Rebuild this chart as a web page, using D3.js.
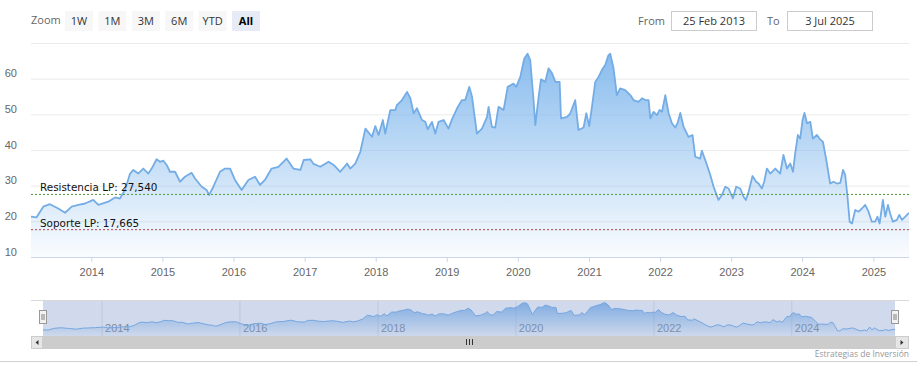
<!DOCTYPE html>
<html>
<head>
<meta charset="utf-8">
<script src="https://cdn.jsdelivr.net/npm/d3@7"></script>
<style>
body { margin: 0; background: #fff; }
svg { display: block; font-family: "Open Sans", "DejaVu Sans", sans-serif; }
</style>
</head>
<body>
<script>
// price series
var dates = [
    '2013-02-25', '2013-03-25', '2013-04-29', '2013-06-02', '2013-07-15', '2013-08-19', '2013-09-22', '2013-10-26', '2013-11-30',
    '2014-01-11', '2014-02-06', '2014-03-29', '2014-05-03', '2014-05-28', '2014-06-23', '2014-07-19', '2014-08-05', '2014-08-30',
    '2014-09-25', '2014-10-21', '2014-11-07', '2014-12-02', '2014-12-20',
    '2015-01-06', '2015-01-23', '2015-02-09', '2015-03-07', '2015-04-02', '2015-04-27', '2015-05-31', '2015-06-18', '2015-07-22',
    '2015-08-16', '2015-08-29', '2015-09-20', '2015-10-24', '2015-11-19', '2015-12-15',
    '2016-01-09', '2016-02-12', '2016-03-18', '2016-04-21', '2016-05-17', '2016-06-11', '2016-07-15', '2016-08-19', '2016-09-30',
    '2016-11-04', '2016-12-10', '2016-12-27',
    '2017-01-30', '2017-02-16', '2017-03-22', '2017-05-04', '2017-05-30', '2017-07-03', '2017-08-07', '2017-08-23', '2017-09-18',
    '2017-10-14', '2017-11-09', '2017-12-13', '2017-12-30',
    '2018-01-16', '2018-02-07', '2018-02-19', '2018-03-17', '2018-04-12', '2018-04-20', '2018-05-16', '2018-06-11', '2018-06-28',
    '2018-07-15', '2018-08-01', '2018-08-27', '2018-09-13', '2018-09-25', '2018-10-17', '2018-11-03', '2018-11-20', '2018-12-16',
    '2019-01-10', '2019-01-28', '2019-02-23', '2019-03-20', '2019-04-06', '2019-04-27', '2019-05-11', '2019-06-05', '2019-07-01',
    '2019-07-27', '2019-08-04', '2019-08-21', '2019-09-07', '2019-09-24', '2019-10-20', '2019-11-10', '2019-12-10', '2019-12-24',
    '2020-01-14', '2020-02-03', '2020-02-20', '2020-03-05', '2020-03-22', '2020-03-31', '2020-04-17', '2020-04-29', '2020-05-21',
    '2020-06-07', '2020-06-25', '2020-07-12', '2020-08-03', '2020-08-10', '2020-09-10', '2020-09-27', '2020-10-22', '2020-11-08',
    '2020-12-04', '2020-12-18',
    '2021-01-02', '2021-01-16', '2021-02-02', '2021-02-19', '2021-03-08', '2021-03-25', '2021-04-11', '2021-04-20', '2021-05-07',
    '2021-05-24', '2021-06-10', '2021-07-06', '2021-08-01', '2021-08-18', '2021-09-12', '2021-09-30', '2021-10-17', '2021-11-03',
    '2021-11-12', '2021-11-29', '2021-12-16', '2021-12-29',
    '2022-01-11', '2022-01-28', '2022-02-14', '2022-03-03', '2022-03-20', '2022-04-01', '2022-04-15', '2022-05-02', '2022-05-27',
    '2022-06-17', '2022-07-01', '2022-07-26', '2022-08-04', '2022-08-30', '2022-09-16', '2022-10-03', '2022-10-28', '2022-11-15',
    '2022-12-02', '2022-12-19',
    '2023-01-10', '2023-01-27', '2023-02-17', '2023-03-06', '2023-03-18', '2023-04-01', '2023-04-21', '2023-05-10', '2023-05-22',
    '2023-06-08', '2023-06-20', '2023-07-04', '2023-07-21', '2023-08-16', '2023-09-10', '2023-09-27', '2023-10-15', '2023-11-01',
    '2023-11-15', '2023-11-26', '2023-12-10', '2023-12-22',
    '2024-01-03', '2024-01-13', '2024-01-26', '2024-02-12', '2024-02-25', '2024-03-17', '2024-03-30', '2024-04-17', '2024-05-04',
    '2024-05-24', '2024-06-10', '2024-06-28', '2024-07-15', '2024-07-29', '2024-08-09', '2024-08-21', '2024-09-01', '2024-09-13',
    '2024-09-30', '2024-10-17', '2024-11-03', '2024-11-20', '2024-12-07', '2024-12-24',
    '2025-01-10', '2025-01-22', '2025-02-02', '2025-02-19', '2025-03-03', '2025-03-17', '2025-03-28', '2025-04-11', '2025-05-02',
    '2025-05-14', '2025-05-28', '2025-06-14', '2025-07-03'
];
var prices = [
    21.3, 21.1, 24.1, 24.8, 23.6, 22.4, 24.1, 24.6, 25.0,
    26.0, 24.6, 25.5, 26.7, 26.4, 28.8, 33.4, 34.4, 33.4,
    34.8, 33.4, 34.8, 37.4, 36.7,
    37.0, 35.8, 33.9, 33.9, 31.1, 32.5, 33.6, 32.0, 29.7,
    28.8, 27.4, 29.7, 33.9, 34.8, 34.8,
    31.6, 28.8, 31.6, 32.5, 30.2, 31.6, 34.8, 35.3, 37.6,
    34.8, 34.4, 37.2,
    37.4, 36.1, 35.3, 36.7, 35.8, 33.9, 36.2, 34.8, 36.2,
    39.5, 46.0, 43.7, 46.7,
    44.2, 48.4, 44.6, 51.2, 51.2, 52.6, 54.0, 56.3, 54.5,
    50.3, 51.7, 48.4, 47.9, 45.8, 47.9, 44.6, 47.9, 48.4,
    46.0, 48.6, 51.7, 54.0, 54.0, 57.7, 54.9, 44.6, 46.0,
    49.3, 52.1, 46.5, 46.3, 52.1, 51.2, 57.7, 58.6, 57.7,
    60.5, 65.6, 67.0, 65.2, 54.0, 47.0, 54.9, 59.8, 59.1,
    62.9, 61.5, 59.1, 59.1, 48.9, 49.3, 50.3, 54.0, 45.6,
    46.3, 50.3,
    46.7, 52.1, 59.1, 60.5, 62.4, 63.8, 66.6, 67.0, 62.9,
    55.4, 57.3, 56.8, 55.4, 54.0, 53.5, 54.5, 54.0, 54.0,
    48.9, 50.7, 49.8, 51.2,
    50.7, 55.4, 50.3, 47.5, 46.3, 47.6, 50.4, 46.5, 43.7,
    44.2, 38.1, 37.6, 39.8, 35.8, 33.0, 29.7, 26.0, 27.4,
    29.7, 29.2,
    26.4, 29.7, 29.2, 26.9, 26.0, 28.3, 32.7, 31.1, 30.6,
    29.2, 31.1, 34.8, 33.4, 34.8, 33.4, 38.6, 34.8, 36.2,
    33.9, 39.0, 44.2, 43.2,
    48.4, 50.4, 47.5, 47.9, 43.2, 44.2, 43.2, 42.3, 37.2,
    30.6, 31.1, 30.6, 30.8, 34.4, 33.0, 26.9, 19.9, 19.4,
    23.2, 22.7, 23.6, 24.6, 22.7, 19.9,
    19.9, 21.3, 19.4, 26.0, 21.3, 24.6, 22.2, 19.9, 20.4,
    21.8, 20.4, 21.3, 22.4
];
var rangeStart = '2013-02-25';
var rangeEnd = '2025-07-03';
var yTickValues = [10, 20, 30, 40, 50, 60, 70];
var zoomButtons = ['1W', '1M', '3M', '6M', 'YTD', 'All'];
var levelNames = ['Resistencia LP: 27,540', 'Soporte LP: 17,665'];
var levelValues = [27.54, 17.665];
var levelColors = ['#4f9a3c', '#c0404c'];
var fromText = '25 Feb 2013';
var toText = '3 Jul 2025';
var creditText = 'Estrategias de Inversión';

(function () {
    'use strict';
    var W = 917, H = 375;
    var left = 31, right = 909, top = 43, bottom = 257;
    var navLeft = 43, navRight = 895, navTop = 300, navBottom = 336;

    var svg = d3.select('body')
        .append('svg')
        .attr('width', W)
        .attr('height', H);

    var parse = d3.timeParse('%Y-%m-%d');
    var data = dates.map(function (d, i) {
        return { date: parse(d), value: prices[i] };
    });

    var x = d3.scaleTime().domain([parse(rangeStart), parse(rangeEnd)]).range([left, right]);
    var y = d3.scaleLinear().domain([10, 70]).range([bottom, top]);
    var xn = d3.scaleTime().domain([parse(rangeStart), parse(rangeEnd)]).range([navLeft, navRight]);
    var yn = d3.scaleLinear().domain([11, 71.5]).range([navBottom, navTop]);

    var defs = svg.append('defs');
    function grad(id, y1, y2) {
        var g = defs.append('linearGradient')
            .attr('id', id)
            .attr('gradientUnits', 'userSpaceOnUse')
            .attr('x1', 0).attr('x2', 0)
            .attr('y1', y1).attr('y2', y2);
        g.append('stop').attr('offset', 0).attr('stop-color', '#7cb5ec').attr('stop-opacity', 0.95);
        g.append('stop').attr('offset', 1).attr('stop-color', '#7cb5ec').attr('stop-opacity', 0.04);
    }
    grad('areaGrad', top, bottom);
    grad('navGrad', navTop, navBottom);

    defs.append('clipPath').attr('id', 'plotClip')
        .append('rect').attr('x', left).attr('y', top - 5).attr('width', right - left).attr('height', bottom - top + 5);

    // range selector
    svg.append('text')
        .attr('x', left).attr('y', 24)
        .attr('font-size', 11).attr('fill', '#666')
        .text('Zoom');
    var btn = svg.selectAll('g.btn')
        .data(zoomButtons)
        .enter()
        .append('g')
        .attr('class', 'btn')
        .attr('transform', function (d, i) {
            return 'translate(' + (65 + i * 33.4) + ',11)';
        });
    btn.append('rect')
        .attr('width', 28).attr('height', 20)
        .attr('fill', function (d) { return d === 'All' ? '#e6ebf5' : '#f7f7f7'; });
    btn.append('text')
        .attr('x', 14).attr('y', 14)
        .attr('text-anchor', 'middle')
        .attr('font-size', 11)
        .attr('font-weight', function (d) { return d === 'All' ? 'bold' : 'normal'; })
        .attr('fill', function (d) { return d === 'All' ? '#000' : '#333'; })
        .text(function (d) { return d; });

    svg.append('text').attr('x', 638).attr('y', 25).attr('font-size', 11).attr('fill', '#666').text('From');
    svg.append('text').attr('x', 767).attr('y', 25).attr('font-size', 11).attr('fill', '#666').text('To');
    [[671.5, fromText], [787.5, toText]].forEach(function (b) {
        svg.append('rect')
            .attr('x', b[0]).attr('y', 11.5)
            .attr('width', 85).attr('height', 19)
            .attr('fill', '#fff').attr('stroke', '#ccc');
        svg.append('text')
            .attr('x', b[0] + 42.5).attr('y', 25)
            .attr('text-anchor', 'middle')
            .attr('font-size', 11).attr('fill', '#333')
            .text(b[1]);
    });

    // y axis with grid
    var yAxis = svg.append('g')
        .attr('transform', 'translate(' + left + ',0)')
        .call(d3.axisLeft(y).tickValues(yTickValues).tickSize(-(right - left)).tickPadding(14));
    yAxis.select('.domain').remove();
    yAxis.selectAll('line').attr('stroke', '#ebebeb');
    yAxis.selectAll('text')
        .attr('dy', -2)
        .attr('font-size', 11)
        .attr('fill', '#666')
        .style('display', function (d) { return d === 70 ? 'none' : null; });

    // series
    var area = d3.area()
        .x(function (d) { return x(d.date); })
        .y0(bottom)
        .y1(function (d) { return y(d.value); });
    var line = d3.line()
        .x(function (d) { return x(d.date); })
        .y(function (d) { return y(d.value); });
    var plot = svg.append('g').attr('clip-path', 'url(#plotClip)');
    plot.append('path').datum(data).attr('d', area).attr('fill', 'url(#areaGrad)');
    plot.append('path').datum(data).attr('d', line)
        .attr('fill', 'none').attr('stroke', '#74ace6').attr('stroke-width', 1.8)
        .attr('stroke-linejoin', 'round');

    // x axis
    var xAxis = svg.append('g')
        .attr('transform', 'translate(0,' + bottom + ')')
        .call(d3.axisBottom(x).ticks(d3.timeYear).tickFormat(d3.timeFormat('%Y')).tickSize(5).tickPadding(6));
    xAxis.select('.domain').attr('stroke', '#ccd6eb').attr('d', 'M' + left + ',0.5H' + right);
    xAxis.selectAll('line').attr('stroke', '#ccd6eb');
    xAxis.selectAll('text').attr('font-size', 11).attr('fill', '#666');

    // support / resistance lines
    levelValues.forEach(function (v, i) {
        svg.append('line')
            .attr('x1', left).attr('x2', right)
            .attr('y1', y(v)).attr('y2', y(v))
            .attr('stroke', levelColors[i]).attr('stroke-width', 1)
            .attr('stroke-dasharray', '2,2');
        svg.append('text')
            .attr('x', 40).attr('y', y(v) - 3)
            .attr('font-family', '"DejaVu Sans", sans-serif')
            .attr('font-size', 10.4).attr('fill', '#111')
            .text(levelNames[i]);
    });

    // navigator
    defs.append('clipPath').attr('id', 'navClip')
        .append('rect').attr('x', navLeft).attr('y', navTop).attr('width', navRight - navLeft).attr('height', navBottom - navTop);
    var navAxis = svg.append('g')
        .attr('transform', 'translate(0,' + navBottom + ')')
        .call(d3.axisBottom(xn).ticks(d3.timeYear.every(2)).tickFormat(d3.timeFormat('%Y')).tickSize(-(navBottom - navTop)));
    navAxis.select('.domain').remove();
    navAxis.selectAll('line').attr('stroke', '#e6e6e6');
    navAxis.selectAll('text')
        .attr('text-anchor', 'start')
        .attr('x', 3).attr('y', -4).attr('dy', 0)
        .attr('font-size', 11).attr('fill', '#8a8a8a');

    var navArea = d3.area()
        .x(function (d) { return xn(d.date); })
        .y0(navBottom)
        .y1(function (d) { return yn(d.value); });
    var navLine = d3.line()
        .x(function (d) { return xn(d.date); })
        .y(function (d) { return yn(d.value); });
    var nav = svg.append('g').attr('clip-path', 'url(#navClip)');
    nav.append('path').datum(data).attr('d', navArea).attr('fill', 'url(#navGrad)');
    nav.append('path').datum(data).attr('d', navLine)
        .attr('fill', 'none').attr('stroke', '#7cb5ec').attr('stroke-width', 1);

    svg.append('rect')
        .attr('x', navLeft).attr('y', navTop)
        .attr('width', navRight - navLeft).attr('height', navBottom - navTop)
        .attr('fill', 'rgba(102,133,194,0.3)');
    svg.append('line')
        .attr('x1', left).attr('x2', right)
        .attr('y1', navTop + 0.5).attr('y2', navTop + 0.5)
        .attr('stroke', '#d8d8d8');

    [navLeft, navRight].forEach(function (hx) {
        svg.append('rect')
            .attr('x', hx - 3.5).attr('y', 310.5)
            .attr('width', 7).attr('height', 13)
            .attr('fill', '#f2f2f2').attr('stroke', '#999');
        [-1, 1].forEach(function (o) {
            svg.append('line')
                .attr('x1', hx + o).attr('x2', hx + o)
                .attr('y1', 314).attr('y2', 320)
                .attr('stroke', '#333').attr('stroke-width', 0.6);
        });
    });

    // scrollbar
    svg.append('rect').attr('x', left).attr('y', navBottom).attr('width', right - left).attr('height', 13).attr('fill', '#f2f2f2');
    svg.append('rect').attr('x', navLeft).attr('y', navBottom).attr('width', navRight - navLeft).attr('height', 13).attr('fill', '#cccccc');
    [[left, navLeft, -1], [navRight, right, 1]].forEach(function (b) {
        svg.append('rect')
            .attr('x', b[0] + 0.5).attr('y', navBottom + 0.5)
            .attr('width', b[1] - b[0] - 1).attr('height', 12)
            .attr('fill', '#e6e6e6').attr('stroke', '#cccccc');
        var cx = (b[0] + b[1]) / 2;
        svg.append('path')
            .attr('d', 'M' + (cx - 1.5 * b[2]) + ',' + (navBottom + 4) + 'L' + (cx - 1.5 * b[2]) + ',' + (navBottom + 9) + 'L' + (cx + 1.5 * b[2]) + ',' + (navBottom + 6.5) + 'Z')
            .attr('fill', '#333');
    });
    var mid = (navLeft + navRight) / 2;
    [-3, 0, 3].forEach(function (o) {
        svg.append('line')
            .attr('x1', mid + o + 0.5).attr('x2', mid + o + 0.5)
            .attr('y1', navBottom + 3).attr('y2', navBottom + 9)
            .attr('stroke', '#333').attr('stroke-width', 1);
    });

    // credits and footer line
    svg.append('text')
        .attr('x', right).attr('y', 357)
        .attr('text-anchor', 'end')
        .attr('font-size', 8.5).attr('fill', '#999')
        .text(creditText);
    svg.append('line')
        .attr('x1', 0).attr('x2', W)
        .attr('y1', 361.5).attr('y2', 361.5)
        .attr('stroke', '#d0d0d0');
}());
</script>
</body>
</html>
